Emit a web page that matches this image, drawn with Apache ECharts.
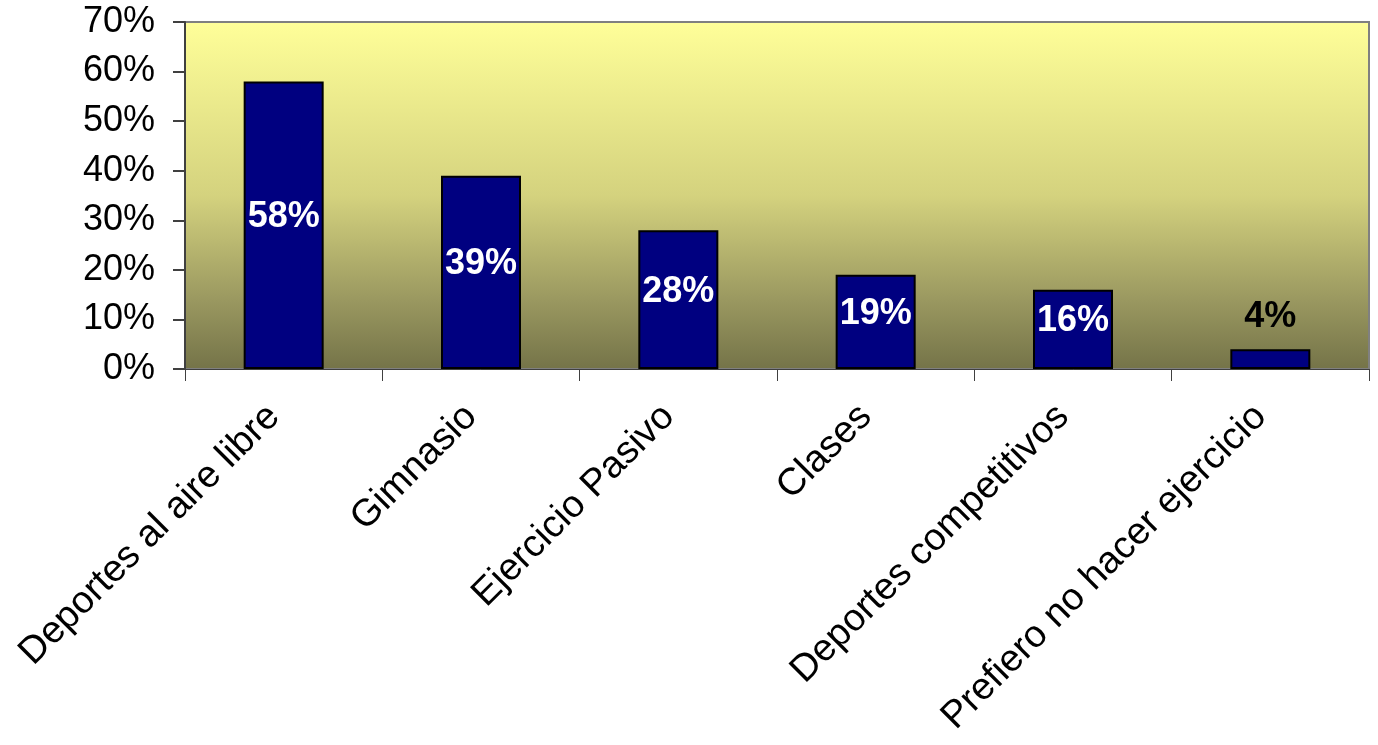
<!DOCTYPE html>
<html>
<head>
<meta charset="utf-8">
<script src="https://cdn.jsdelivr.net/npm/echarts@6/dist/echarts.min.js"></script>
<style>
  html, body { margin: 0; padding: 0; background: #fff; }
  #chart { width: 1378px; height: 745px; }
</style>
</head>
<body>
<div id="chart"></div>
<script>
const categories = [
  'Deportes al aire libre',
  'Gimnasio',
  'Ejercicio Pasivo',
  'Clases',
  'Deportes competitivos',
  'Prefiero no hacer ejercicio'
];
const values = [58, 39, 28, 19, 16, 4];
// values below this go with the label above the bar
const labelOutsideBelow = 10;

const chart = echarts.init(document.getElementById('chart'));

chart.setOption({
  animation: false,
  textStyle: { fontFamily: 'Liberation Sans, Arial, sans-serif' },
  grid: {
    left: 185,
    top: 22,
    right: 9,
    bottom: 376,
    show: true,
    borderColor: '#808080',
    borderWidth: 2,
    backgroundColor: new echarts.graphic.LinearGradient(0, 0, 0, 1, [
      { offset: 0, color: '#ffff99' },
      { offset: 0.5, color: '#d4d27e' },
      { offset: 0.8, color: '#9a9860' },
      { offset: 1, color: '#747348' }
    ])
  },
  xAxis: {
    type: 'category',
    data: categories,
    axisLine: { lineStyle: { color: '#404040', width: 1 } },
    axisTick: { show: true, length: 12, lineStyle: { color: '#404040' } },
    axisLabel: {
      rotate: 45,
      interval: 0,
      margin: 32,
      padding: [0, 14, 0, 0],
      fontSize: 38,
      color: '#000'
    }
  },
  yAxis: {
    type: 'value',
    min: 0,
    max: 70,
    interval: 10,
    axisLine: { show: true, lineStyle: { color: '#404040', width: 2 } },
    axisTick: { show: true, length: 12, lineStyle: { color: '#404040', width: 2 } },
    splitLine: { show: false },
    axisLabel: {
      margin: 30,
      fontSize: 36,
      color: '#000',
      formatter: (v) => v + '%'
    }
  },
  series: [
    {
      type: 'bar',
      barWidth: 80,
      data: values.map((v) => ({
        value: v,
        label: v < labelOutsideBelow
          ? { position: 'top', color: '#000', distance: 14 }
          : { position: 'inside', color: '#fff', offset: [0, -8] }
      })),
      itemStyle: {
        color: '#000080',
        borderColor: '#000',
        borderWidth: 2
      },
      label: {
        show: true,
        fontSize: 36,
        fontWeight: 'bold',
        formatter: (p) => p.value + '%'
      }
    }
  ]
});
</script>
</body>
</html>
